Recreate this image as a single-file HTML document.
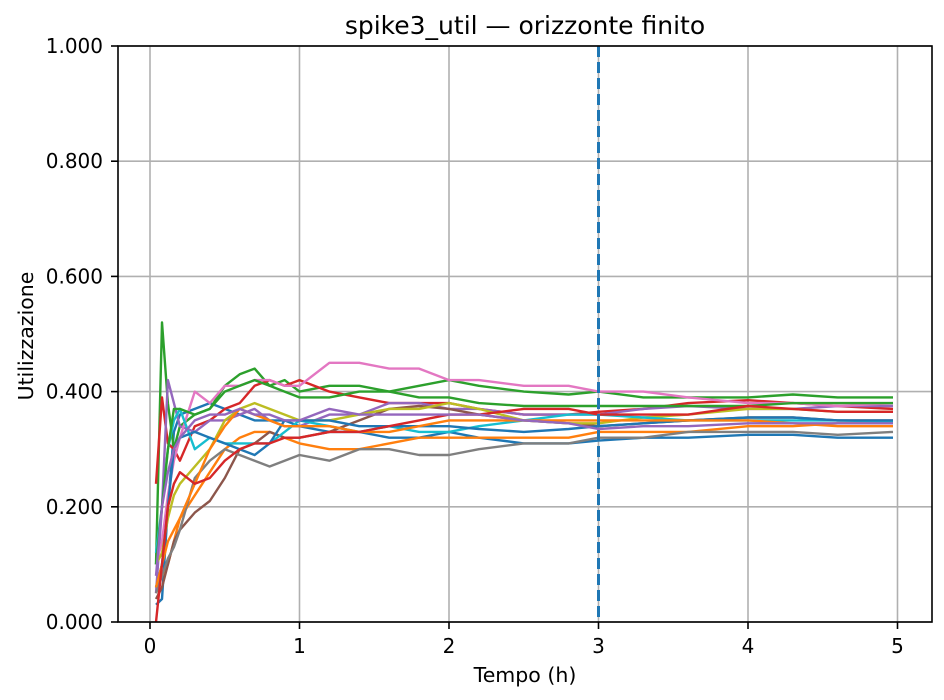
<!DOCTYPE html>
<html><head><meta charset="utf-8"><style>
html,body{margin:0;padding:0;background:#fff;}
svg{display:block;font-family:"DejaVu Sans","Liberation Sans",sans-serif;}
</style></head><body>
<svg id="chart" width="944" height="700" viewBox="0 0 944 700">
<rect x="0" y="0" width="944" height="700" fill="#fff"/>
<g id="grid"></g>
<g id="series"></g>
<g id="axes"></g>
<text x="525" y="34" text-anchor="middle" font-size="25">spike3_util — orizzonte finito</text>
<text x="525" y="682" text-anchor="middle" font-size="20.5">Tempo (h)</text>
<text x="33" y="336" text-anchor="middle" font-size="20.5" transform="rotate(-90 33 336)">Utilizzazione</text>
</svg>
<script>
const times = [0.04,0.08,0.12,0.16,0.2,0.3,0.4,0.5,0.6,0.7,0.8,0.9,1.0,1.2,1.4,1.6,1.8,2.0,2.2,2.5,2.8,3.0,3.3,3.6,4.0,4.3,4.6,4.97];
const xTicks = [0,1,2,3,4,5];
const yTicks = [0,0.2,0.4,0.6,0.8,1.0];
const yTickLabels = ["0.000","0.200","0.400","0.600","0.800","1.000"];
const horizon = 3;
const colors = ["#1f77b4","#ff7f0e","#2ca02c","#d62728","#9467bd","#8c564b","#e377c2","#7f7f7f","#bcbd22","#17becf"];
const s1 = [.03,.04,.20,.33,.36,.37,.38,.37,.36,.35,.35,.35,.34,.33,.33,.32,.32,.33,.32,.31,.31,.315,.32,.32,.325,.325,.32,.32];
const s2 = [.05,.08,.10,.14,.18,.22,.26,.30,.32,.33,.33,.32,.31,.30,.30,.31,.32,.32,.32,.32,.32,.33,.33,.33,.34,.34,.345,.345];
const s3 = [.10,.52,.38,.30,.34,.36,.37,.41,.43,.44,.41,.42,.40,.41,.41,.40,.41,.42,.41,.40,.395,.40,.39,.39,.39,.395,.39,.39];
const s4 = [.24,.39,.31,.30,.28,.34,.35,.37,.38,.41,.42,.41,.42,.40,.39,.38,.38,.38,.37,.36,.36,.365,.37,.38,.385,.38,.375,.37];
const s5 = [.05,.20,.42,.38,.34,.33,.35,.35,.36,.37,.35,.34,.34,.36,.36,.38,.38,.37,.37,.36,.36,.36,.37,.375,.37,.37,.375,.375];
const s6 = [.04,.06,.10,.14,.16,.19,.21,.25,.30,.31,.33,.32,.32,.33,.35,.37,.375,.37,.36,.35,.345,.34,.345,.35,.355,.355,.35,.35];
const s7 = [.10,.14,.22,.28,.32,.40,.38,.41,.41,.42,.42,.41,.41,.45,.45,.44,.44,.42,.42,.41,.41,.40,.40,.39,.38,.38,.375,.38];
const s8 = [.05,.08,.11,.13,.16,.25,.28,.30,.29,.28,.27,.28,.29,.28,.30,.30,.29,.29,.30,.31,.31,.32,.32,.33,.33,.33,.325,.33];
const s9 = [.10,.12,.18,.22,.24,.27,.30,.35,.37,.38,.37,.36,.35,.35,.36,.37,.37,.38,.37,.35,.345,.345,.355,.36,.37,.37,.365,.365];
const s10 = [.12,.20,.30,.35,.37,.30,.32,.31,.31,.31,.31,.33,.35,.34,.33,.34,.33,.33,.34,.35,.36,.36,.355,.35,.35,.35,.35,.348];
const s11 = [.06,.10,.20,.30,.32,.33,.32,.31,.30,.29,.31,.35,.35,.35,.34,.34,.34,.34,.335,.33,.335,.34,.345,.35,.355,.355,.35,.35];
const s12 = [.06,.10,.14,.16,.18,.24,.30,.34,.37,.36,.35,.34,.34,.34,.33,.33,.34,.35,.35,.35,.35,.35,.35,.35,.35,.345,.34,.34];
const s13 = [.10,.20,.30,.37,.37,.36,.37,.40,.41,.42,.41,.40,.39,.39,.40,.40,.39,.39,.38,.375,.375,.375,.375,.375,.375,.38,.38,.38];
const s14 = [.00,.10,.20,.24,.26,.24,.25,.28,.30,.31,.31,.32,.32,.33,.33,.34,.35,.36,.36,.37,.37,.36,.36,.36,.375,.37,.365,.365];
const s15 = [.08,.20,.26,.30,.32,.35,.36,.36,.37,.36,.36,.35,.35,.37,.36,.36,.36,.36,.36,.35,.345,.335,.34,.34,.345,.345,.345,.345];
const seriesList = [s1,s2,s3,s4,s5,s6,s7,s8,s9,s10,s11,s12,s13,s14,s15];

const NS = "http://www.w3.org/2000/svg";
const L=118,R=932,T=46,B=622;
function xs(t){return 150 + t*149.5;}
function ys(v){return B - v*(B-T);}
function mk(tag, attrs, parent){const e=document.createElementNS(NS,tag);for(const k in attrs)e.setAttribute(k,attrs[k]);parent.appendChild(e);return e;}
const grid=document.getElementById('grid'), axes=document.getElementById('axes'), sg=document.getElementById('series');
xTicks.forEach(t=>{
  const g=mk('line',{x1:xs(t),x2:xs(t),y1:T,y2:B,stroke:'#b0b0b0','stroke-width':1.6},grid);
  
  
  const tk=mk('line',{x1:xs(t),x2:xs(t),y1:B,y2:B+7,stroke:'#000','stroke-width':1.6},axes);
  
  
  const lb=mk('text',{x:xs(t),y:B+31,'text-anchor':'middle','font-size':20},axes);
  lb.textContent=String(t);
  
  
});
yTicks.forEach((v,i)=>{
  const g=mk('line',{x1:L,x2:R,y1:ys(v),y2:ys(v),stroke:'#b0b0b0','stroke-width':1.6},grid);
  
  
  const tk=mk('line',{x1:L-7,x2:L,y1:ys(v),y2:ys(v),stroke:'#000','stroke-width':1.6},axes);
  
  
  const lb=mk('text',{x:L-15,y:ys(v)+7,'text-anchor':'end','font-size':20},axes);
  lb.textContent=yTickLabels[i];
  
  
});
seriesList.forEach((arr,i)=>{
  const d=arr.map((v,j)=>(j?'L':'M')+xs(times[j]).toFixed(1)+','+ys(v).toFixed(1)).join(' ');
  const p=mk('path',{d:d,fill:'none',stroke:colors[i%10],'stroke-width':2.4,'stroke-linejoin':'round'},sg);
  
  
});
const hl=mk('line',{x1:xs(horizon),x2:xs(horizon),y1:T,y2:B,stroke:'#1f77b4','stroke-width':3,'stroke-dasharray':'11,5'},sg);


const fr=mk('rect',{x:L,y:T,width:R-L,height:B-T,fill:'none',stroke:'#000','stroke-width':1.6},axes);


</script>
</body></html>
